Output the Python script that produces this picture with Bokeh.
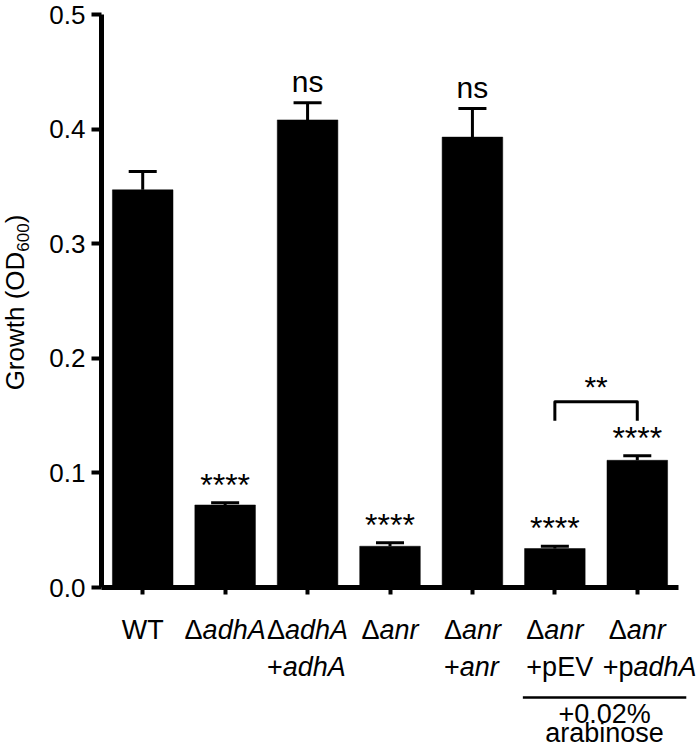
import math
from bokeh.plotting import figure
from bokeh.models import FixedTicker, Range1d
from bokeh.layouts import row, column
from bokeh.core.properties import value
from bokeh.embed import file_html
from bokeh.resources import INLINE

# ---------------- data ----------------
categories = ["WT", "ΔadhA", "ΔadhA +adhA", "Δanr", "Δanr +anr", "Δanr +pEV", "Δanr +padhA"]
growth = [0.347, 0.072, 0.408, 0.036, 0.393, 0.034, 0.111]
sem = [0.016, 0.002, 0.015, 0.003, 0.025, 0.002, 0.004]
significance = ["", "****", "ns", "****", "ns", "****", "****"]
y_ticks = [0.0, 0.1, 0.2, 0.3, 0.4, 0.5]
y_tick_labels = ["0.0", "0.1", "0.2", "0.3", "0.4", "0.5"]
# rich-text runs of the category labels: (text, italic)
label_line1 = [
    [("WT", False)],
    [("Δ", False), ("adhA", True)],
    [("Δ", False), ("adhA", True)],
    [("Δ", False), ("anr", True)],
    [("Δ", False), ("anr", True)],
    [("Δ", False), ("anr", True)],
    [("Δ", False), ("anr", True)],
]
label_line2 = [
    [],
    [],
    [("+", False), ("adhA", True)],
    [],
    [("+", False), ("anr", True)],
    [("+pEV", False)],
    [("+p", False), ("adhA", True)],
]
bracket_pair = [5, 6]
bracket_sig = "**"
group_members = [5, 6]
group_note = ["+0.02%", "arabinose"]
y_title_runs = [("Growth (OD", "main"), ("600", "sub"), (")", "main")]

# ---------------- layout / style ----------------
FONT = "Liberation Sans"
W_TOTAL, H_TOTAL = 700, 748
TITLE_W = 36
LEFT = 101 - TITLE_W      # main-figure left border (after title strip)
RIGHT = 22
FRAME_W, FRAME_H = 577, 573
TOP = 14
AX_BOTTOM = 18
AXIS_Y = TOP + FRAME_H          # canvas y of the x axis
BOTTOM_H = H_TOTAL - AXIS_Y - AX_BOTTOM
Y_MAX = 0.5
N = len(categories)
ppx = FRAME_W / N          # px per category unit
ppy = FRAME_H / Y_MAX      # px per y unit
BASE_SHIFT = 0.4           # rendered alphabetic baseline sits this many em lower

EM = {"W": .944, "T": .611, "Δ": .667, "a": .556, "d": .556, "h": .556, "A": .667,
      "n": .556, "r": .333, "+": .584, "p": .556, "E": .667, "V": .667, "G": .778,
      "o": .556, "w": .722, "t": .278, " ": .278, "(": .333, ")": .333, "O": .778,
      "D": .722, "6": .556, "0": .556, "*": .389, "s": .5}


def text_w(s, size):
    return sum(EM.get(ch, .556) for ch in s) * size


centers = [i + 0.5 for i in range(N)]
tops = [g + e for g, e in zip(growth, sem)]

# ================= main chart =================
p = figure(frame_width=FRAME_W, frame_height=FRAME_H,
           x_range=Range1d(0, N), y_range=Range1d(0, Y_MAX),
           output_backend="svg", toolbar_location=None,
           min_border_left=LEFT, min_border_right=RIGHT, min_border_top=TOP, min_border_bottom=AX_BOTTOM,
           background_fill_color="white", border_fill_color="white")
p.outline_line_color = None
p.xgrid.visible = False
p.ygrid.visible = False

p.yaxis.ticker = FixedTicker(ticks=y_ticks)
p.yaxis.major_label_overrides = {t: l for t, l in zip(y_ticks, y_tick_labels)}
p.yaxis.major_label_text_font = FONT
p.yaxis.major_label_text_font_size = "26px"
p.yaxis.major_label_text_color = "black"
p.yaxis.major_label_standoff = 6
p.yaxis.axis_line_width = 5
p.yaxis.major_tick_line_width = 4
p.yaxis.major_tick_out = 10
p.yaxis.major_tick_in = 0
p.yaxis.minor_tick_line_color = None

p.xaxis.ticker = FixedTicker(ticks=centers)
p.xaxis.major_label_overrides = {c: "" for c in centers}
p.xaxis.major_label_text_font_size = "1px"
p.xaxis.major_label_standoff = 0
p.xaxis.axis_label_standoff = 0
p.xaxis.axis_line_width = 5
p.xaxis.major_tick_line_width = 4
p.xaxis.major_tick_out = 7
p.xaxis.major_tick_in = 0
p.xaxis.minor_tick_line_color = None

p.vbar(x=centers, top=growth, bottom=0, width=0.735, fill_color="black", line_color="black", line_width=0.5)
p.segment(x0=centers, y0=growth, x1=centers, y1=tops, line_color="black", line_width=3)
p.segment(x0=[c - 0.17 for c in centers], y0=tops, x1=[c + 0.17 for c in centers], y1=tops,
          line_color="black", line_width=3)

# significance marks, floated a fixed number of px above the error cap
sx, sy, st, sf = [], [], [], []
for c, t, s in zip(centers, tops, significance):
    if not s:
        continue
    star = s.startswith("*")
    size = 32 if star else 30
    gap = 5 if star else 9          # rendered baseline above the cap (px)
    sx.append(c)
    sy.append(t + (gap + BASE_SHIFT * size) / ppy)
    st.append(s)
    sf.append(f"{size}px")
p.text(x=sx, y=sy, text=st, text_font=value(FONT), text_font_size=sf,
       text_align="center", text_baseline="alphabetic", text_color="black")

# bracket
i0, i1 = bracket_pair
b_base = max(tops[i0], tops[i1])
b_low = b_base + 35 / ppy
b_high = b_low + 19 / ppy
p.line(x=[centers[i0], centers[i0], centers[i1], centers[i1]], y=[b_low, b_high, b_high, b_low],
       line_color="black", line_width=3, line_join="round")
p.text(x=[(centers[i0] + centers[i1]) / 2], y=[b_high + (3 + BASE_SHIFT * 30) / ppy], text=[bracket_sig],
       text_font=value(FONT), text_font_size="30px", text_align="center",
       text_baseline="alphabetic", text_color="black")

# ================= category labels strip =================
BOT_FRAME_W = FRAME_W + RIGHT
b = figure(frame_width=BOT_FRAME_W, frame_height=BOTTOM_H,
           x_range=Range1d(0, BOT_FRAME_W / ppx), y_range=Range1d(0, BOTTOM_H),
           x_axis_type=None, y_axis_type=None,
           output_backend="svg", toolbar_location=None,
           min_border_left=LEFT, min_border_right=0, min_border_top=0, min_border_bottom=0,
           background_fill_color="white", border_fill_color="white")
b.outline_line_color = None
b.xgrid.visible = False
b.ygrid.visible = False

LBL = 27


def base_y(d, size=LBL):
    # d = distance (px) of the rendered text baseline below the x axis -> strip coordinate
    return H_TOTAL - AXIS_Y - d + BASE_SHIFT * size


runs = {False: ([], [], [], []), True: ([], [], [], [])}


def add_runs(xc, rr, d, start):
    for t, it in rr:
        xs, ys, ts, offs = runs[it]
        xs.append(xc)
        ys.append(base_y(d))
        ts.append(t)
        offs.append(start)
        start += text_w(t, LBL)


for c, l1, l2 in zip(centers, label_line1, label_line2):
    left = -sum(text_w(t, LBL) for t, _ in l1) / 2     # line 1 centred on the tick
    add_runs(c, l1, 53, left)
    if l2:
        w2 = sum(text_w(t, LBL) for t, _ in l2)
        over = c * ppx + left + w2 - (BOT_FRAME_W - 4)  # keep inside the page
        add_runs(c, l2, 90, left - max(0.0, over))     # line 2 left-aligned with line 1

for it, (xs, ys, ts, offs) in runs.items():
    b.text(x=xs, y=ys, text=ts, x_offset=offs, text_font=value(FONT), text_font_size=f"{LBL}px",
           text_font_style="italic" if it else "normal", text_align="left",
           text_baseline="alphabetic", text_color="black")

g0, g1 = group_members
gx0 = centers[g0] - 32 / ppx
gx1 = centers[g1] + 49 / ppx
b.line(x=[gx0, gx1], y=[H_TOTAL - AXIS_Y - 110] * 2, line_color="black", line_width=2.5)
gmid = (gx0 + gx1) / 2
b.text(x=[gmid] * len(group_note), y=[base_y(137), base_y(156)], text=group_note,
       text_font=value(FONT), text_font_size=f"{LBL}px", text_align="center",
       text_baseline="alphabetic", text_color="black")

# ================= y-axis title strip =================
t = figure(frame_width=TITLE_W, frame_height=H_TOTAL,
           x_range=Range1d(0, TITLE_W), y_range=Range1d(0, H_TOTAL),
           x_axis_type=None, y_axis_type=None,
           output_backend="svg", toolbar_location=None,
           min_border_left=0, min_border_right=0, min_border_top=0, min_border_bottom=0,
           background_fill_color="white", border_fill_color="white")
t.outline_line_color = None
t.xgrid.visible = False
t.ygrid.visible = False
TS, SS = 26, 17
sizes = {"main": TS, "sub": SS}
total = sum(text_w(s, sizes[k]) for s, k in y_title_runs)
yc = H_TOTAL - 302
pos = yc - total / 2
for s, k in y_title_runs:
    size = sizes[k]
    base_x = 25 + (4 if k == "sub" else 0)
    t.text(x=[base_x - BASE_SHIFT * size], y=[pos], text=[s], angle=math.pi / 2,
           text_font=value(FONT), text_font_size=f"{size}px", text_align="left",
           text_baseline="alphabetic", text_color="black")
    pos += text_w(s, size)

layout = row(t, column(p, b, spacing=0), spacing=0)
open("out.html", "w").write(file_html(layout, INLINE))
